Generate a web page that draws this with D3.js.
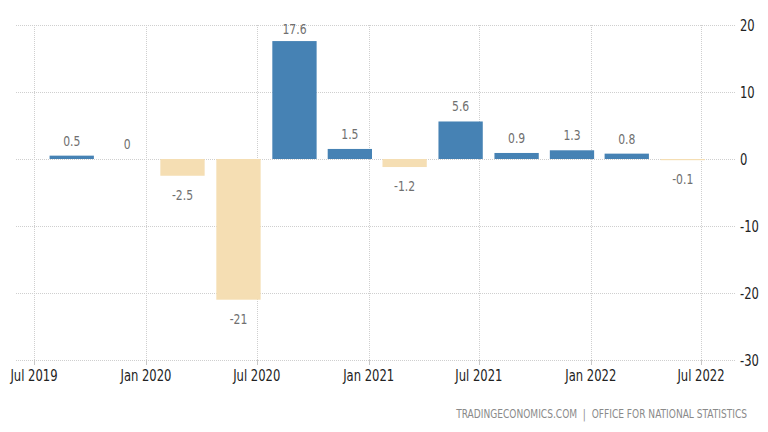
<!DOCTYPE html>
<html>
<head>
<meta charset="utf-8">
<script src="https://cdn.jsdelivr.net/npm/d3@7"></script>
<style>
  html, body { margin: 0; padding: 0; background: #fff; }
  svg { display: block; }
</style>
</head>
<body>
<svg id="chart" width="768" height="432"></svg>
<script>
// Data: UK GDP growth rate QoQ (%)
const quarters = ["2019-09", "2019-12", "2020-03", "2020-06", "2020-09", "2020-12",
                  "2021-03", "2021-06", "2021-09", "2021-12", "2022-03", "2022-06"];
const values = [0.5, 0, -2.5, -21, 17.6, 1.5, -1.2, 5.6, 0.9, 1.3, 0.8, -0.1];
const valueLabels = ["0.5", "0", "-2.5", "-21", "17.6", "1.5", "-1.2", "5.6", "0.9", "1.3", "0.8", "-0.1"];
const xTickDates = ["2019-07", "2020-01", "2020-07", "2021-01", "2021-07", "2022-01", "2022-07"];
const xTickLabels = ["Jul 2019", "Jan 2020", "Jul 2020", "Jan 2021", "Jul 2021", "Jan 2022", "Jul 2022"];
const yTicks = [20, 10, 0, -10, -20, -30];
const sourceText = "TRADINGECONOMICS.COM  |  OFFICE FOR NATIONAL STATISTICS";

const parse = d3.timeParse("%Y-%m");
const svg = d3.select("#chart");

const x = d3.scaleTime()
  .domain([parse("2019-07"), parse("2022-07")])
  .range([34, 701]);
const y = d3.scaleLinear().domain([-30, 20]).range([360, 25]);

const gridLeft = 16, gridRight = 735;
const fontTick = "'DejaVu Sans Condensed', 'DejaVu Sans', sans-serif";
const sx = 0.86; // horizontal squeeze of glyphs

// horizontal grid
svg.append("g").selectAll("line").data(yTicks).join("line")
  .attr("x1", gridLeft).attr("x2", gridRight)
  .attr("y1", d => y(d) + 0.5).attr("y2", d => y(d) + 0.5)
  .attr("stroke", "#cfcfcf").attr("stroke-width", 1)
  .attr("stroke-dasharray", "1,1");

// vertical grid
const xDates = xTickDates.map(parse);
svg.append("g").selectAll("line").data(xDates).join("line")
  .attr("x1", d => Math.round(x(d)) + 0.5).attr("x2", d => Math.round(x(d)) + 0.5)
  .attr("y1", y(20)).attr("y2", y(-30))
  .attr("stroke", "#cfcfcf").attr("stroke-width", 1)
  .attr("stroke-dasharray", "1,1");

// x tick marks
svg.append("g").selectAll("line").data(xDates).join("line")
  .attr("x1", d => Math.round(x(d)) + 0.5).attr("x2", d => Math.round(x(d)) + 0.5)
  .attr("y1", y(-30)).attr("y2", y(-30) + 5)
  .attr("stroke", "#c8c8c8").attr("stroke-width", 1);

// bars
const qDates = quarters.map(parse);
const barW = (x(qDates[1]) - x(qDates[0])) * 0.8;
svg.append("g").selectAll("rect").data(values).join("rect")
  .attr("x", (d, i) => x(qDates[i]) - barW / 2)
  .attr("width", barW)
  .attr("y", d => y(Math.max(0, d)))
  .attr("height", d => d === 0 ? 0 : Math.max(Math.abs(y(d) - y(0)), 1.2))
  .attr("fill", d => d >= 0 ? "#4682b4" : "#f5deb3");

// value labels
svg.append("g").selectAll("text").data(values).join("text")
  .attr("transform", (d, i) => `translate(${x(qDates[i])},${d >= 0 ? Math.max(y(d) - 10, 34) : y(d) + 24}) scale(${sx},1)`)
  .attr("text-anchor", "middle")
  .attr("font-family", fontTick)
  .attr("font-size", 14)
  .attr("fill", "#707070")
  .text((d, i) => valueLabels[i]);

// x tick labels
svg.append("g").selectAll("text").data(xDates).join("text")
  .attr("transform", d => `translate(${x(d)},381) scale(${sx},1)`)
  .attr("text-anchor", "middle")
  .attr("font-family", fontTick)
  .attr("font-size", 15)
  .attr("fill", "#222")
  .text((d, i) => xTickLabels[i]);

// y tick labels
svg.append("g").selectAll("text").data(yTicks).join("text")
  .attr("transform", d => `translate(740,${y(d) + 6}) scale(${sx},1)`)
  .attr("font-family", fontTick)
  .attr("font-size", 15)
  .attr("fill", "#222")
  .text(d => d);

// source
svg.append("text")
  .attr("transform", "translate(747,418) scale(0.84,1)")
  .attr("text-anchor", "end")
  .attr("font-family", fontTick)
  .attr("font-size", 12)
  .attr("fill", "#8a8a8a")
  .attr("xml:space", "preserve")
  .style("white-space", "pre")
  .text(sourceText);
</script>
</body>
</html>
